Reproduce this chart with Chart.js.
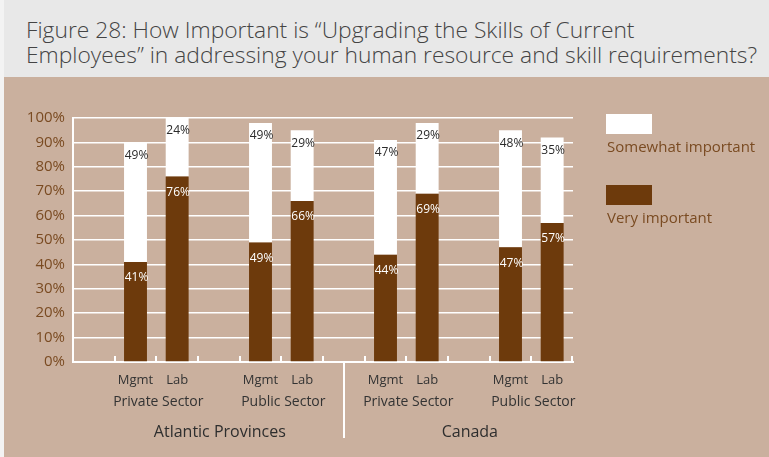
<!DOCTYPE html>
<html>
<head>
<meta charset="utf-8">
<script src="https://cdn.jsdelivr.net/npm/chart.js@4.4.1/dist/chart.umd.min.js"></script>
<style>
  html, body { margin: 0; padding: 0; background: #f3f3f3; }
  body { width: 769px; height: 457px; position: relative; overflow: hidden; }
  #title {
    position: absolute; left: 4px; top: 0; width: 765px; height: 77px;
    background: #e8e8e8; color: #444444;
    font-family: 'Open Sans', sans-serif; font-weight: 300; font-size: 22.8px; line-height: 25px;
    box-sizing: border-box; padding: 17px 0 0 22px; white-space: nowrap;
  }
  #panel { position: absolute; left: 4px; top: 77px; width: 765px; height: 380px; background: #cab09e; }
  canvas { display: block; }
</style>
</head>
<body>
<div id="title">Figure 28: How Important is “Upgrading the Skills of Current<br>Employees” in addressing your human resource and skill requirements?</div>
<div id="panel"><canvas id="c" width="765" height="380"></canvas></div>
<script>
// Survey groups and the bars inside each group
const regions = ['Atlantic Provinces', 'Canada'];
const sectors = ['Private Sector', 'Public Sector'];
const roles = ['Mgmt', 'Lab'];

// Share of respondents (%) in bar order:
// Atlantic Private Mgmt, Lab, Atlantic Public Mgmt, Lab, Canada Private Mgmt, Lab, Canada Public Mgmt, Lab
const veryImportant = [41, 76, 49, 66, 44, 69, 47, 57];
const somewhatImportant = [49, 24, 49, 29, 47, 29, 48, 35];

const yTicks = [0, 10, 20, 30, 40, 50, 60, 70, 80, 90, 100];

const DARK = '#6d3a0c';
const TAN_TEXT = '#7a4b22';
const FONT = "'Open Sans', sans-serif";

// Each sector block is an empty spacer slot followed by one slot per role
const slotLabels = [];
const slotBar = []; // index into the value arrays, or -1 for a spacer
let barIdx = 0;
regions.forEach(() => {
  sectors.forEach(() => {
    slotLabels.push('');
    slotBar.push(-1);
    roles.forEach(r => { slotLabels.push(r); slotBar.push(barIdx++); });
  });
});
const toSlots = arr => slotBar.map(i => (i < 0 ? null : arr[i]));

// White tick marks pointing up into the plot at every slot boundary,
// the divider between the two regions, and the sector / region captions
const axisDecor = {
  id: 'axisDecor',
  afterDraw(chart) {
    const { ctx } = chart;
    const xs = chart.scales.x;
    const bottom = chart.chartArea.bottom;
    ctx.save();
    ctx.strokeStyle = '#ffffff';
    ctx.lineWidth = 2;
    for (let i = 1; i <= slotLabels.length; i++) {
      const x = Math.round(xs.getPixelForValue(i - 0.5)) - (i === slotLabels.length ? 1 : 0);
      ctx.beginPath();
      ctx.moveTo(x, bottom - 6);
      ctx.lineTo(x, bottom);
      ctx.stroke();
    }
    const slotsPerSector = roles.length + 1;
    const slotsPerRegion = slotsPerSector * sectors.length;
    // divider sits in the spacer slot that opens the second region
    for (let g = 1; g < regions.length; g++) {
      const x = Math.round(xs.getPixelForValue(g * slotsPerRegion));
      ctx.beginPath();
      ctx.moveTo(x, bottom);
      ctx.lineTo(x, bottom + 76);
      ctx.stroke();
    }
    ctx.textAlign = 'center';
    ctx.textBaseline = 'middle';
    regions.forEach((reg, g) => {
      sectors.forEach((sec, s) => {
        const first = g * slotsPerRegion + s * slotsPerSector + 1;
        const last = first + roles.length - 1;
        const cx = (xs.getPixelForValue(first) + xs.getPixelForValue(last)) / 2;
        ctx.fillStyle = '#333333';
        ctx.font = '14px ' + FONT;
        ctx.fillText(sec, cx + 2, bottom + 40);
      });
      const first = g * slotsPerRegion + 1;
      const last = (g + 1) * slotsPerRegion - 1;
      const cx = (xs.getPixelForValue(first) + xs.getPixelForValue(last)) / 2;
      ctx.fillStyle = '#2e2e2e';
      ctx.font = '16px ' + FONT;
      ctx.fillText(reg, cx + 1, bottom + 70);
    });
    ctx.restore();
  }
};

// Percentage printed just inside the top of every segment
const segmentLabels = {
  id: 'segmentLabels',
  afterDatasetsDraw(chart) {
    const { ctx } = chart;
    ctx.save();
    ctx.font = '12px ' + FONT;
    ctx.textAlign = 'center';
    ctx.textBaseline = 'middle';
    chart.data.datasets.forEach((ds, di) => {
      const meta = chart.getDatasetMeta(di);
      meta.data.forEach((bar, i) => {
        const v = ds.data[i];
        if (v === null || v === undefined) return;
        ctx.fillStyle = ds.labelColor;
        ctx.fillText(v + '%', bar.x + 1, bar.y + ds.labelOffset);
      });
    });
    ctx.restore();
  }
};

// Legend to the right: swatch above its caption, top entry first
const sideLegend = {
  id: 'sideLegend',
  afterDraw(chart) {
    const { ctx } = chart;
    const x = chart.chartArea.right + 33;
    let y = 37;
    ctx.save();
    ctx.font = '15px ' + FONT;
    ctx.textAlign = 'left';
    ctx.textBaseline = 'middle';
    chart.data.datasets.slice().reverse().forEach(ds => {
      ctx.fillStyle = ds.backgroundColor;
      ctx.fillRect(x, y, 46, 20);
      ctx.fillStyle = TAN_TEXT;
      ctx.fillText(ds.label, x + 1, y + 34);
      y += 71;
    });
    ctx.restore();
  }
};

new Chart(document.getElementById('c'), {
  type: 'bar',
  data: {
    labels: slotLabels,
    datasets: [
      {
        label: 'Very important',
        data: toSlots(veryImportant),
        backgroundColor: DARK,
        labelColor: '#ffffff',
        labelOffset: 16
      },
      {
        label: 'Somewhat important',
        data: toSlots(somewhatImportant),
        backgroundColor: '#ffffff',
        labelColor: '#2b2b2b',
        labelOffset: 13
      }
    ]
  },
  options: {
    responsive: false,
    devicePixelRatio: 1,
    animation: false,
    datasets: { bar: { categoryPercentage: 1, barPercentage: 0.55, skipNull: false } },
    layout: { padding: { top: 41, right: 196, bottom: 0, left: 0 } },
    plugins: { legend: { display: false }, tooltip: { enabled: false }, title: { display: false } },
    scales: {
      x: {
        stacked: true,
        grid: { display: false },
        border: { display: true, color: '#ffffff', width: 2 },
        ticks: { color: '#333333', font: { family: FONT, size: 13 }, padding: 2, autoSkip: false, maxRotation: 0 },
        afterFit(scale) { scale.height = 95; }
      },
      y: {
        stacked: true,
        min: 0,
        max: 100,
        afterBuildTicks(scale) { scale.ticks = yTicks.map(v => ({ value: v })); },
        grid: { color: '#ffffff', lineWidth: 1.5, drawTicks: false },
        border: { display: true, color: '#ffffff', width: 2 },
        ticks: {
          color: TAN_TEXT,
          font: { family: FONT, size: 15 },
          padding: 8,
          callback: v => v + '%'
        },
        afterFit(scale) { scale.width = 69; }
      }
    }
  },
  plugins: [axisDecor, segmentLabels, sideLegend]
});
</script>
</body>
</html>
